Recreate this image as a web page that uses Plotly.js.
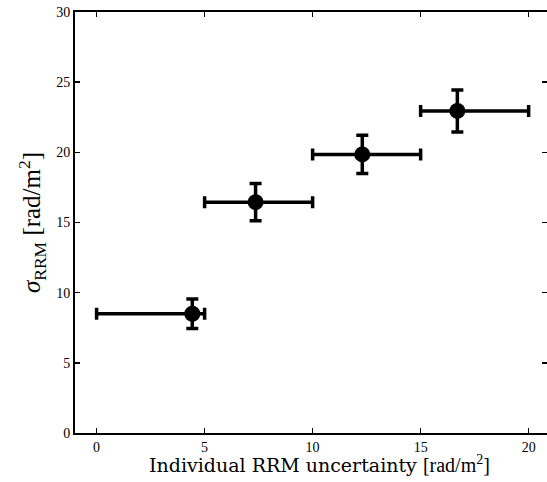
<!DOCTYPE html>
<html>
<head>
<meta charset="utf-8">
<script src="https://cdn.plot.ly/plotly-3.0.1.min.js"></script>
<style>
html, body { margin:0; padding:0; overflow:hidden; background:#fff; }
#chart { width:547px; height:482px; }
</style>
</head>
<body>
<div id="chart"></div>
<script>
// Data
const xCenters = [4.43, 7.36, 12.30, 16.70];
const binLow   = [0, 5, 10, 15];
const binHigh  = [5, 10, 15, 20];
const sigmaRRM = [8.5, 16.45, 19.85, 22.95];
const sigmaErr = [1.05, 1.33, 1.36, 1.5];
const xTicks = [0, 5, 10, 15, 20];
const yTicks = [0, 5, 10, 15, 20, 25, 30];

const errPlus = xCenters.map((x, i) => binHigh[i] - x);
const errMinus = xCenters.map((x, i) => x - binLow[i]);

const trace = {
  x: xCenters,
  y: sigmaRRM,
  type: 'scatter',
  mode: 'markers',
  marker: { color: 'black', size: 16, symbol: 'circle' },
  error_x: { type: 'data', symmetric: false, array: errPlus, arrayminus: errMinus,
             color: 'black', thickness: 3.5, width: 6 },
  error_y: { type: 'data', array: sigmaErr, color: 'black', thickness: 3.5, width: 6 },
  hoverinfo: 'skip',
  showlegend: false
};

// invisible trace so the right-hand tick axis is drawn
const rightAxisTrace = {
  x: [xCenters[0]], y: [sigmaRRM[0]], yaxis: 'y2', type: 'scatter', mode: 'markers',
  marker: { opacity: 0 }, hoverinfo: 'skip', showlegend: false
};

const font = { family: '"Liberation Serif", "DejaVu Serif", serif', color: 'black' };
const titleFont = { family: '"DejaVu Serif", "Liberation Serif", serif', color: 'black' };

const layout = {
  width: 547,
  height: 482,
  margin: { l: 75, r: 0, t: 12, b: 49 },
  paper_bgcolor: 'white',
  plot_bgcolor: 'white',
  font: Object.assign({ size: 14 }, font),
  xaxis: {
    range: [-1, 20.85],
    tickvals: xTicks,
    ticktext: xTicks.map(String),
    ticks: 'inside',
    ticklen: 5,
    tickwidth: 1.5,
    tickcolor: 'black',
    showline: true,
    linecolor: 'black',
    linewidth: 2,
    mirror: 'ticks',
    showgrid: false,
    zeroline: false,
    tickfont: Object.assign({ size: 14 }, font)
  },
  yaxis: {
    range: [0, 30],
    tickvals: yTicks,
    ticktext: yTicks.map(String),
    ticks: 'inside',
    ticklen: 5,
    tickwidth: 1.5,
    tickcolor: 'black',
    showline: true,
    linecolor: 'black',
    linewidth: 2,
    mirror: false,
    showgrid: false,
    zeroline: false,
    tickfont: Object.assign({ size: 14 }, font),
    title: {
      text: '<i>σ</i><sub>RRM</sub> [rad/m<sup>2</sup>]',
      font: Object.assign({ size: 25 }, font),
      standoff: 8
    }
  },
  yaxis2: {
    overlaying: 'y',
    side: 'right',
    range: [0, 30],
    tickvals: yTicks,
    showticklabels: false,
    ticks: 'inside',
    ticklen: 5,
    tickwidth: 1.5,
    tickcolor: 'black',
    showline: false,
    showgrid: false,
    zeroline: false
  },
  annotations: [{
    xref: 'paper', yref: 'paper',
    x: 0.519, y: -0.074,
    xanchor: 'center', yanchor: 'middle',
    showarrow: false,
    text: 'Individual RRM uncertainty <span style="font-family:\'Liberation Serif\';font-size:20px">[rad/m<sup>2</sup>]</span>',
    font: Object.assign({ size: 19 }, titleFont)
  }]
};

Plotly.newPlot('chart', [trace, rightAxisTrace], layout, { displayModeBar: false, staticPlot: true });
</script>
</body>
</html>
